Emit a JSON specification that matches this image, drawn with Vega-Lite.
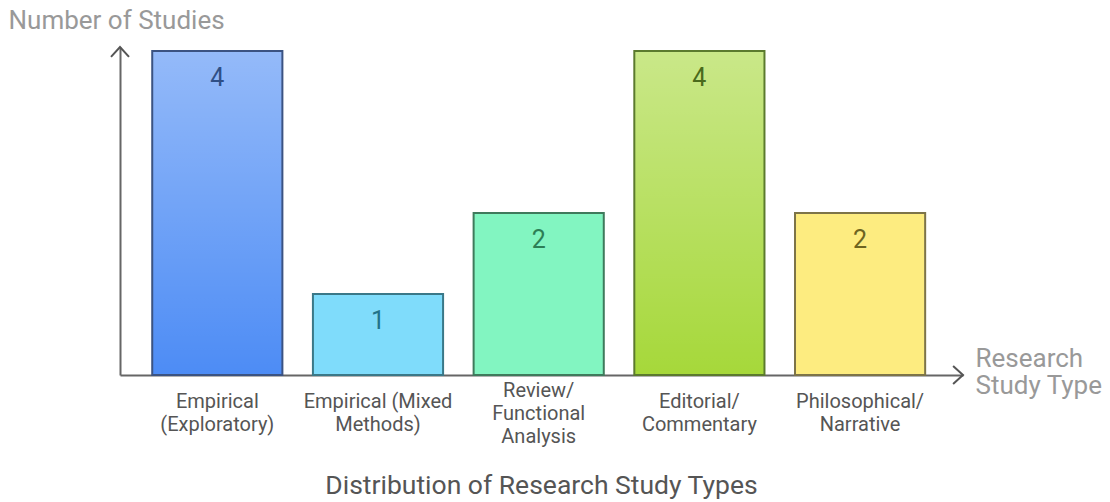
{
  "$schema": "https://vega.github.io/schema/vega-lite/v6.json",
  "autosize": "none",
  "width": 843,
  "height": 328,
  "padding": {"left": 120, "top": 47, "right": 147, "bottom": 127},
  "background": "white",
  "config": {
    "font": "Roboto",
    "view": {"stroke": null},
    "axis": {"grid": false, "ticks": false, "domainColor": "#666666", "domainWidth": 2}
  },
  "title": {
    "text": "Distribution of Research Study Types",
    "orient": "bottom",
    "anchor": "middle",
    "fontSize": 26.5,
    "fontWeight": "normal",
    "color": "#555555",
    "font": "Roboto",
    "offset": 27
  },
  "layer": [
    {
      "data": {
        "values": [
          {"type": "Empirical (Exploratory)", "studies": 4},
          {"type": "Empirical (Mixed Methods)", "studies": 1},
          {"type": "Review/Functional Analysis", "studies": 2},
          {"type": "Editorial/Commentary", "studies": 4},
          {"type": "Philosophical/Narrative", "studies": 2}
        ]
      },
      "encoding": {
        "x": {
          "field": "type",
          "type": "nominal",
          "sort": null,
          "scale": {"paddingInner": 0.19, "paddingOuter": 0.218, "align": 0.46},
          "axis": {
            "title": ["Research", "Study Type"],
            "titleAngle": 0,
            "titleAlign": "left",
            "titleBaseline": "alphabetic",
            "titleX": 855,
            "titleY": -9,
            "titleFontSize": 26,
            "titleFontWeight": "normal",
            "titleColor": "#999999",
            "titleLineHeight": 27,
            "labelAngle": 0,
            "labelFontSize": 20,
            "labelColor": "#555555",
            "labelBaseline": "middle",
            "labelLineHeight": 23,
            "labelPadding": {"condition": {"test": "datum.value == 'Review/Functional Analysis'", "value": 15}, "value": 26.5},
            "labelExpr": "datum.value == 'Empirical (Exploratory)' ? ['Empirical', '(Exploratory)'] : datum.value == 'Empirical (Mixed Methods)' ? ['Empirical (Mixed', 'Methods)'] : datum.value == 'Review/Functional Analysis' ? ['Review/', 'Functional', 'Analysis'] : datum.value == 'Editorial/Commentary' ? ['Editorial/', 'Commentary'] : ['Philosophical/', 'Narrative']"
          }
        },
        "y": {
          "field": "studies",
          "type": "quantitative",
          "scale": {"domain": [0, 4.05], "nice": false},
          "axis": {
            "title": "Number of Studies",
            "titleAngle": 0,
            "titleAlign": "left",
            "titleBaseline": "middle",
            "titleX": -112,
            "titleY": -27,
            "titleFontSize": 26,
            "titleFontWeight": "normal",
            "titleColor": "#999999",
            "labels": false
          }
        }
      },
      "layer": [
        {
          "mark": {"type": "bar"},
          "encoding": {
            "fill": {
              "field": "type",
              "type": "nominal",
              "sort": null,
              "legend": null,
              "scale": {
                "domain": ["Empirical (Exploratory)", "Empirical (Mixed Methods)", "Review/Functional Analysis", "Editorial/Commentary", "Philosophical/Narrative"],
                "range": ["#4d8cf5", "#7fdcfb", "#82f5c1", "#a6d83a", "#fdec80"]
              }
            }
          }
        },
        {
          "transform": [{"filter": "datum.type == 'Empirical (Exploratory)' || datum.type == 'Editorial/Commentary'"}],
          "mark": {
            "type": "bar",
            "fill": {
              "gradient": "linear",
              "x1": 0, "y1": 0, "x2": 0, "y2": 1,
              "stops": [
                {"offset": 0, "color": "rgba(255,255,255,0.4)"},
                {"offset": 1, "color": "rgba(255,255,255,0)"}
              ]
            }
          }
        },
        {
          "mark": {"type": "bar", "fill": "transparent", "strokeWidth": 2},
          "encoding": {
            "stroke": {
              "field": "type",
              "type": "nominal",
              "sort": null,
              "legend": null,
              "scale": {
                "domain": ["Empirical (Exploratory)", "Empirical (Mixed Methods)", "Review/Functional Analysis", "Editorial/Commentary", "Philosophical/Narrative"],
                "range": ["#3b5382", "#3a7888", "#3f7a5c", "#5b7a2e", "#7d7448"]
              }
            }
          }
        },
        {
          "mark": {"type": "text", "baseline": "middle", "dy": 27, "fontSize": 25, "font": "Roboto"},
          "encoding": {
            "text": {"field": "studies", "type": "quantitative"},
            "color": {
              "field": "type",
              "type": "nominal",
              "sort": null,
              "legend": null,
              "scale": {
                "domain": ["Empirical (Exploratory)", "Empirical (Mixed Methods)", "Review/Functional Analysis", "Editorial/Commentary", "Philosophical/Narrative"],
                "range": ["#2f4f86", "#22738a", "#2d7e56", "#4a6a1c", "#6e6420"]
              }
            }
          }
        }
      ]
    },
    {
      "data": {"values": [{"end": "y"}]},
      "mark": {"type": "point", "shape": "M-1,1.1L0,0L1,1.1", "size": 324, "filled": false, "fill": null, "stroke": "#555555", "strokeWidth": 2, "opacity": 1},
      "encoding": {
        "x": {"datum": 0, "type": "quantitative", "scale": {"domain": [0, 1]}, "axis": null},
        "y": {"datum": 4.05, "type": "quantitative", "scale": {"domain": [0, 4.05], "nice": false}}
      }
    },
    {
      "data": {"values": [{"end": "x"}]},
      "mark": {"type": "point", "shape": "M-1.1,-1L0,0L-1.1,1", "size": 324, "filled": false, "fill": null, "stroke": "#555555", "strokeWidth": 2, "opacity": 1},
      "encoding": {
        "x": {"datum": 1, "type": "quantitative", "scale": {"domain": [0, 1]}, "axis": null},
        "y": {"datum": 0, "type": "quantitative", "scale": {"domain": [0, 4.05], "nice": false}}
      }
    }
  ],
  "resolve": {"scale": {"x": "independent"}}
}
